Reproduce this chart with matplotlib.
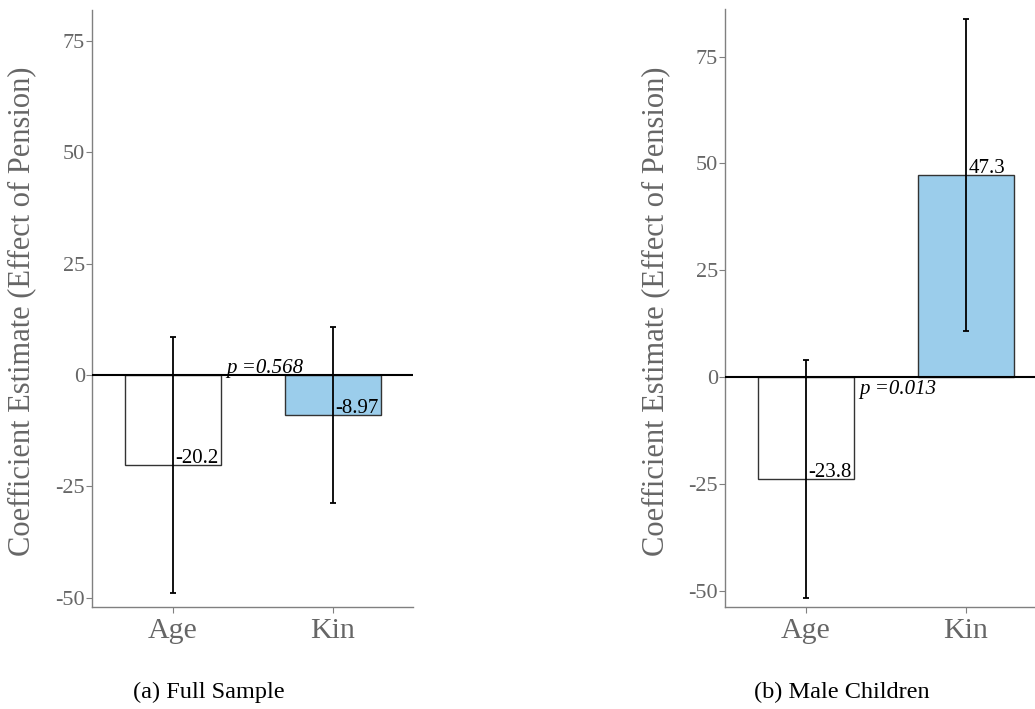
import matplotlib
matplotlib.use('Agg')
import matplotlib.pyplot as plt
import numpy as np

# data
categories = ['Age', 'Kin']
full_estimates = [-20.2, -8.97]
full_errors = [28.7, 19.8]
full_labels = ['-20.2', '-8.97']
full_pvalue = 'p =0.568'
male_estimates = [-23.8, 47.3]
male_errors = [27.9, 36.6]
male_labels = ['-23.8', '47.3']
male_pvalue = 'p =0.013'
yticks = [-50, -25, 0, 25, 50, 75]

plt.rcParams['font.family'] = ['Liberation Serif', 'DejaVu Serif']
W, H = 1035, 709
fig = plt.figure(figsize=(W / 100, H / 100), dpi=100)

bar_colors = ['white', '#9BCDEB']
tick_grey = '#666666'
spine_grey = '#808080'


def px_axes(x0, y0, x1, y1):
    """axes from pixel box (top-left origin)"""
    return fig.add_axes([x0 / W, (H - y1) / H, (x1 - x0) / W, (y1 - y0) / H])


def draw_panel(ax, estimates, errors, labels, pvalue, p_above, ylim, xlim):
    x = np.arange(1, len(categories) + 1)
    ax.bar(x, estimates, width=0.6, color=bar_colors, edgecolor='#333333', linewidth=1.0, zorder=2)
    ax.axhline(0, color='black', linewidth=1.5, zorder=3)
    ax.errorbar(x, estimates, yerr=errors, fmt='none', ecolor='black', elinewidth=1.3,
                capsize=2.2, capthick=1.3, zorder=4)
    for xi, v, lab in zip(x, estimates, labels):
        ax.annotate(lab, (xi, v), xytext=(2, 1.5), textcoords='offset points',
                    ha='left', va='baseline', fontsize=15, color='black', zorder=5)
    if p_above:
        ax.annotate(pvalue, (1.333, 0), xytext=(0, 1.5), textcoords='offset points',
                    ha='left', va='baseline', fontsize=15, style='italic', zorder=5)
    else:
        ax.annotate(pvalue, (1.333, 0), xytext=(0, -2), textcoords='offset points',
                    ha='left', va='top', fontsize=15, style='italic', zorder=5)
    ax.set_xlim(*xlim)
    ax.set_ylim(*ylim)
    ax.set_xticks(x)
    ax.set_xticklabels(categories, fontsize=21.5, color=tick_grey)
    ax.set_yticks(yticks)
    ax.set_yticklabels([str(t) for t in yticks], fontsize=16, color=tick_grey)
    ax.tick_params(axis='both', color=spine_grey, length=4, width=0.8)
    ax.tick_params(axis='y', pad=1)
    ax.tick_params(axis='x', pad=4)
    for s in ['top', 'right']:
        ax.spines[s].set_visible(False)
    for s in ['left', 'bottom']:
        ax.spines[s].set_color(spine_grey)
        ax.spines[s].set_linewidth(1.0)


ax1 = px_axes(91.7, 10, 412.7, 607.3)
draw_panel(ax1, full_estimates, full_errors, full_labels, full_pvalue, True,
           (-52.2, 82.0), (0.494, 2.5))
ax2 = px_axes(725, 9.3, 1035, 607.3)
draw_panel(ax2, male_estimates, male_errors, male_labels, male_pvalue, False,
           (-53.9, 86.1), (0.497, 2.43))

ylab = 'Coefficient Estimate (Effect of Pension)'
fig.text(22 / W, 1 - 311 / H, ylab, rotation=90, ha='center', va='center', fontsize=22, color=tick_grey)
fig.text(656 / W, 1 - 311 / H, ylab, rotation=90, ha='center', va='center', fontsize=22, color=tick_grey)

# subfigure captions
fig.text(209 / W, 1 - 692 / H, '(a) Full Sample', ha='center', va='center', fontsize=17.5, color='black')
fig.text(842 / W, 1 - 692 / H, '(b) Male Children', ha='center', va='center', fontsize=17.5, color='black')

fig.savefig('out.png', dpi=100)
plt.close(fig)
